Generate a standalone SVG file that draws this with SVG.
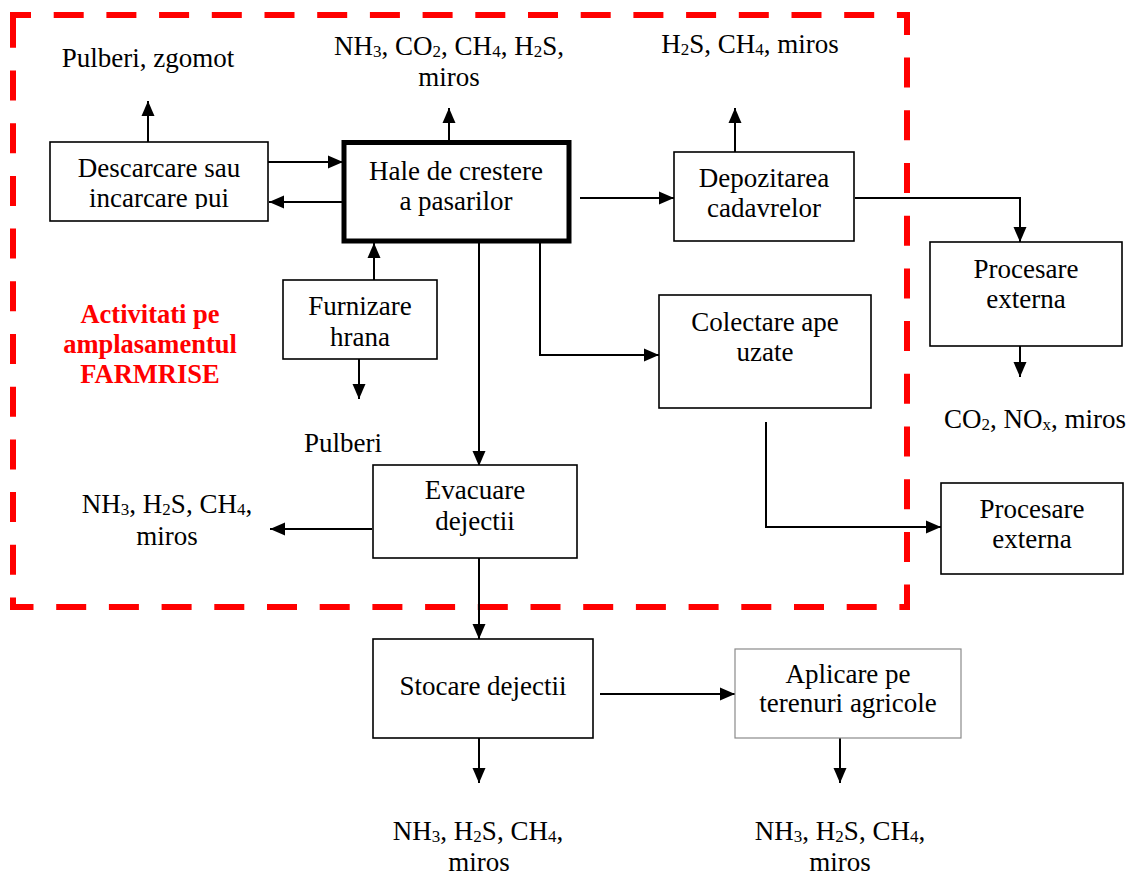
<svg xmlns="http://www.w3.org/2000/svg" width="1129" height="877" viewBox="0 0 1129 877">
<style>
text{font-family:"Liberation Serif","Times New Roman",serif;font-size:27px;fill:#000;text-anchor:middle}
.red{fill:#ff0000;font-weight:bold;font-size:26.5px}
.box{fill:#fff;stroke:#000;stroke-width:1.6}
.thick{fill:#fff;stroke:#000;stroke-width:5}
.light{fill:#fff;stroke:#8a8a8a;stroke-width:1.2}
.con{fill:none;stroke:#000;stroke-width:2;marker-end:url(#ah)}
.sub{font-size:17px}
</style>
<defs>
<marker id="ah" viewBox="0 0 15 14" refX="15" refY="7" markerWidth="15" markerHeight="14" markerUnits="userSpaceOnUse" orient="auto">
<path d="M0,0.5 L15,7 L0,13.5 z" fill="#000"/>
</marker>
<clipPath id="clip1"><rect x="50" y="142" width="218" height="67"/></clipPath>
</defs>
<rect width="1129" height="877" fill="#fff"/>

<g id="boundary">
<path d="M13,27 V15 H907 V607 H13 V27" fill="none" stroke="#ff0000" stroke-width="6" stroke-dasharray="30 22.7"/>
<text class="red" x="150" y="323">Activitati pe</text>
<text class="red" x="150" y="353">amplasamentul</text>
<text class="red" x="150" y="383">FARMRISE</text>
</g>

<g id="connectors">
<path class="con" d="M148,142 V101"/>
<path class="con" d="M268,162 H343"/>
<path class="con" d="M342,202 H269"/>
<path class="con" d="M449,152 V108"/>
<path class="con" d="M580,198 H674"/>
<path class="con" d="M735,152 V108"/>
<path class="con" d="M855,198 H1020 V242"/>
<path class="con" d="M1020,333 V377"/>
<path class="con" d="M540,243 V355 H659"/>
<path class="con" d="M766,422 V527 H941"/>
<path class="con" d="M374,280 V243"/>
<path class="con" d="M359,356 V399"/>
<path class="con" d="M479,243 V466"/>
<path class="con" d="M372,529 H270"/>
<path class="con" d="M479,558 V639"/>
<path class="con" d="M600,694 H735"/>
<path class="con" d="M479,738 V783"/>
<path class="con" d="M840,738 V783"/>
</g>

<g id="n-descarcare">
<rect class="box" x="50" y="142" width="218" height="79"/>
<g clip-path="url(#clip1)">
<text x="159" y="177">Descarcare sau</text>
<text x="159" y="207">incarcare pui</text>
</g>
</g>

<g id="n-hale">
<rect class="thick" x="344" y="142.5" width="225" height="98.5"/>
<text x="456" y="180">Hale de crestere</text>
<text x="456" y="210">a pasarilor</text>
</g>

<g id="n-depozitarea">
<rect class="box" x="674" y="152" width="180" height="89"/>
<text x="764" y="187">Depozitarea</text>
<text x="764" y="217">cadavrelor</text>
</g>

<g id="n-procesare1">
<rect class="box" x="930" y="242" width="192" height="104"/>
<text x="1026" y="278">Procesare</text>
<text x="1026" y="308">externa</text>
</g>

<g id="n-colectare">
<rect class="box" x="659" y="295" width="212" height="113"/>
<text x="765" y="331">Colectare ape</text>
<text x="765" y="361">uzate</text>
</g>

<g id="n-procesare2">
<rect class="box" x="941" y="483" width="182" height="91"/>
<text x="1032" y="518">Procesare</text>
<text x="1032" y="548">externa</text>
</g>

<g id="n-furnizare">
<rect class="box" x="283" y="280" width="154" height="79"/>
<text x="360" y="315">Furnizare</text>
<text x="360" y="346">hrana</text>
</g>

<g id="n-evacuare">
<rect class="box" x="373" y="465" width="204" height="93"/>
<text x="475" y="499">Evacuare</text>
<text x="475" y="530">dejectii</text>
</g>

<g id="n-stocare">
<rect class="box" x="373" y="639" width="220" height="99"/>
<text x="483" y="695">Stocare dejectii</text>
</g>

<g id="n-aplicare">
<rect class="light" x="735" y="649" width="226" height="89"/>
<text x="848" y="683">Aplicare pe</text>
<text x="848" y="712">terenuri agricole</text>
</g>

<g id="labels">
<text x="148" y="67">Pulberi, zgomot</text>
<text x="449" y="55">NH<tspan class="sub" dy="2">3</tspan><tspan dy="-2">, CO</tspan><tspan class="sub" dy="2">2</tspan><tspan dy="-2">, CH</tspan><tspan class="sub" dy="2">4</tspan><tspan dy="-2">, H</tspan><tspan class="sub" dy="2">2</tspan><tspan dy="-2">S,</tspan></text>
<text x="449" y="86">miros</text>
<text x="750" y="53">H<tspan class="sub" dy="2">2</tspan><tspan dy="-2">S, CH</tspan><tspan class="sub" dy="2">4</tspan><tspan dy="-2">, miros</tspan></text>
<text x="1035" y="428">CO<tspan class="sub" dy="2">2</tspan><tspan dy="-2">, NO</tspan><tspan class="sub" dy="2">x</tspan><tspan dy="-2">, miros</tspan></text>
<text x="343" y="452">Pulberi</text>
<text x="167" y="513">NH<tspan class="sub" dy="2">3</tspan><tspan dy="-2">, H</tspan><tspan class="sub" dy="2">2</tspan><tspan dy="-2">S, CH</tspan><tspan class="sub" dy="2">4</tspan><tspan dy="-2">,</tspan></text>
<text x="167" y="545">miros</text>
<text x="478" y="840">NH<tspan class="sub" dy="2">3</tspan><tspan dy="-2">, H</tspan><tspan class="sub" dy="2">2</tspan><tspan dy="-2">S, CH</tspan><tspan class="sub" dy="2">4</tspan><tspan dy="-2">,</tspan></text>
<text x="479" y="871">miros</text>
<text x="840" y="840">NH<tspan class="sub" dy="2">3</tspan><tspan dy="-2">, H</tspan><tspan class="sub" dy="2">2</tspan><tspan dy="-2">S, CH</tspan><tspan class="sub" dy="2">4</tspan><tspan dy="-2">,</tspan></text>
<text x="840" y="871">miros</text>
</g>
</svg>
